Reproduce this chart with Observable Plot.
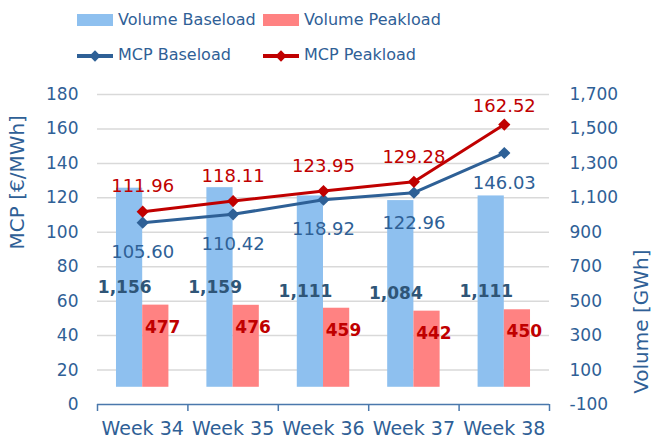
<!DOCTYPE html>
<html><head><meta charset="utf-8">
<script src="https://cdn.jsdelivr.net/npm/d3@7"></script>
<script src="https://cdn.jsdelivr.net/npm/@observablehq/plot@0.6"></script>
<style>
body{margin:0;background:#fff;font-family:"DejaVu Sans",sans-serif;}
#legend{position:relative;width:670px;height:72px;}
#chart svg{display:block;}
.sw{position:absolute;}
.lt{position:absolute;font-size:16px;color:#2F6096;line-height:20px;white-space:nowrap;}
.ln{position:absolute;height:4px;}
.dm{position:absolute;width:8px;height:8px;transform:rotate(45deg);}
</style></head><body>
<div id="legend"></div><div id="chart"></div>
<script>
const weeks = ["Week 34","Week 35","Week 36","Week 37","Week 38"];
const mcpBase = [105.60,110.42,118.92,122.96,146.03];
const mcpPeak = [111.96,118.11,123.95,129.28,162.52];
const volBase = [1156,1159,1111,1084,1111];
const volPeak = [477,476,459,442,450];
const leftTicks = [0,20,40,60,80,100,120,140,160,180];
const rightTicks = [-100,100,300,500,700,900,1100,1300,1500,1700];
const seriesNames = ["Volume Baseload","Volume Peakload","MCP Baseload","MCP Peakload"];

const C = {vb:"#8EC0EF", vp:"#FF8282", mb:"#2E6096", mp:"#C00000", txt:"#2F6096", grid:"#D9D9D9", axis:"#4A78AC", vbl:"#2F5577"};
// secondary axis mapping: volume -> left-axis units
const toLeft = v => (v + 100) / 10;
const fmt = v => d3.format(",")(v).replace("\u2212", "-");

const rows = weeks.map((w,i)=>({i, w, mb:mcpBase[i], mp:mcpPeak[i], vb:volBase[i], vp:volPeak[i]}));
const bw = 0.29;

// legend
const lg = document.getElementById("legend");
const add = (cls, style, text) => { const e=document.createElement("div"); e.className=cls; Object.assign(e.style, style); if(text) e.textContent=text; lg.appendChild(e); };
add("sw",{left:"77px",top:"14px",width:"36px",height:"12px",background:C.vb});
add("lt",{left:"118px",top:"10px"},seriesNames[0]);
add("sw",{left:"263px",top:"14px",width:"36px",height:"12px",background:C.vp});
add("lt",{left:"304px",top:"10px"},seriesNames[1]);
add("ln",{left:"77px",top:"54px",width:"36px",background:C.mb});
add("dm",{left:"91px",top:"52px",background:C.mb});
add("lt",{left:"118px",top:"45px"},seriesNames[2]);
add("ln",{left:"263px",top:"54px",width:"36px",background:C.mp});
add("dm",{left:"277px",top:"52px",background:C.mp});
add("lt",{left:"304px",top:"45px"},seriesNames[3]);

const chart = Plot.plot({
  width: 670, height: 367,
  marginLeft: 97, marginRight: 121, marginTop: 22, marginBottom: 35,
  style: {fontFamily: "DejaVu Sans, sans-serif", background: "#fff"},
  x: {domain: [-0.5, 4.5]},
  y: {domain: [0, 180]},
  marks: [
    Plot.ruleY(leftTicks.filter(t => t > 0), {stroke: C.grid, strokeWidth: 1.5}),
    Plot.rect(rows, {x1: d => d.i - bw, x2: d => d.i, y1: () => toLeft(0), y2: d => toLeft(d.vb), fill: C.vb}),
    Plot.rect(rows, {x1: d => d.i, x2: d => d.i + bw, y1: () => toLeft(0), y2: d => toLeft(d.vp), fill: C.vp}),
    Plot.ruleY([0], {stroke: C.axis, strokeWidth: 1.5}),
    Plot.axisX({ticks: d3.range(-0.5, 5, 1), tickSize: 7, tickFormat: () => "", stroke: C.axis, strokeWidth: 1.5, label: null}),
    Plot.axisX({ticks: d3.range(0, 5), tickSize: 0, tickPadding: 17, tickFormat: i => weeks[i], fontSize: 19, fill: C.txt, label: null}),
    Plot.axisY({ticks: leftTicks, tickSize: 0, tickPadding: 19, fontSize: 17, fill: C.txt, label: null}),
    Plot.axisY({anchor: "right", ticks: rightTicks.map(toLeft), tickSize: 0, tickPadding: 20, fontSize: 17, fill: C.txt, label: null,
      tickFormat: d => fmt(Math.round(d * 10 - 100))}),
    Plot.text([0], {frameAnchor: "left", text: () => "MCP [€/MWh]", rotate: -90, dx: -80, fontSize: 20, fill: C.txt}),
    Plot.text([0], {frameAnchor: "right", text: () => "Volume [GWh]", rotate: -90, dx: 92, fontSize: 20, fill: C.txt}),
    Plot.line(rows, {x: "i", y: "mb", stroke: C.mb, strokeWidth: 3}),
    Plot.line(rows, {x: "i", y: "mp", stroke: C.mp, strokeWidth: 3}),
    Plot.dot(rows, {x: "i", y: "mb", symbol: "diamond2", r: 5.5, fill: C.mb}),
    Plot.dot(rows, {x: "i", y: "mp", symbol: "diamond2", r: 5.5, fill: C.mp}),
    Plot.text(rows, {x: "i", y: d => toLeft(d.vb / 2), text: d => fmt(d.vb), dx: -18, fontSize: 17, fontWeight: "bold", fill: C.vbl}),
    Plot.text(rows, {x: "i", y: d => toLeft(d.vp), text: d => fmt(d.vp), dx: 20, dy: 22, fontSize: 17, fontWeight: "bold", fill: C.mp}),
    Plot.text(rows, {x: "i", y: "mb", text: d => d.mb.toFixed(2), dy: 30, fontSize: 18, fill: C.mb}),
    Plot.text(rows.filter(d => d.i < 4), {x: "i", y: "mp", text: d => d.mp.toFixed(2), dy: -25, fontSize: 18, fill: C.mp}),
    Plot.text(rows.filter(d => d.i === 4), {x: "i", y: "mp", text: d => d.mp.toFixed(2), dy: -18, fontSize: 18, fill: C.mp})
  ]
});
document.getElementById("chart").appendChild(chart);
</script>
</body></html>
